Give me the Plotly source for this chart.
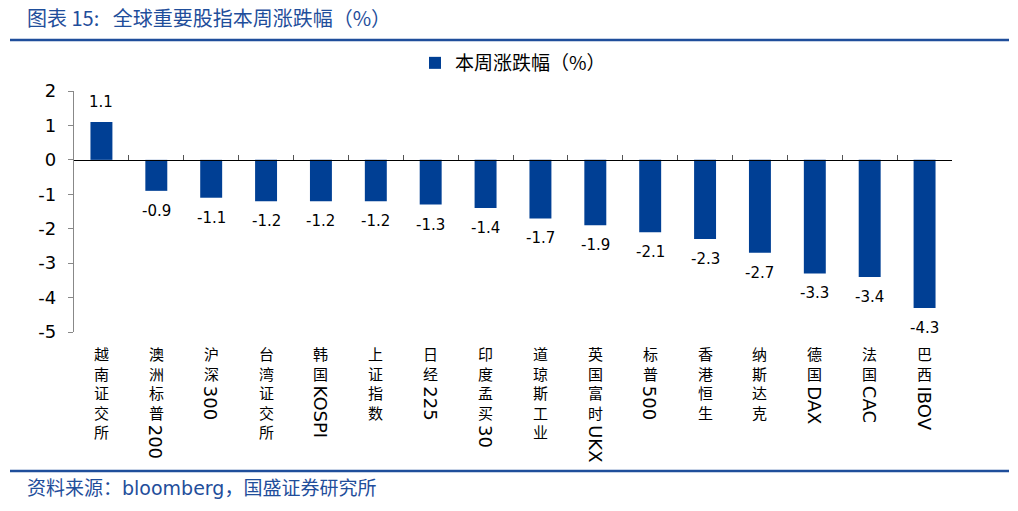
import plotly.graph_objects as go

categories = ["越南证交所", "澳洲标普200", "沪深300", "台湾证交所", "韩国KOSPI", "上证指数",
              "日经225", "印度孟买30", "道琼斯工业", "英国富时UKX", "标普500", "香港恒生",
              "纳斯达克", "德国DAX", "法国CAC", "巴西IBOV"]
values = [1.1, -0.9, -1.1, -1.2, -1.2, -1.2, -1.3, -1.4, -1.7, -1.9, -2.1, -2.3, -2.7, -3.3, -3.4, -4.3]
series_name = "本周涨跌幅（%）"
y_ticks = [2, 1, 0, -1, -2, -3, -4, -5]

BLUE = "#003F94"
TXT_BLUE = "#1F4E9B"
CJK = "Noto Sans CJK SC"
LAT = "DejaVu Sans"

W, H = 1018, 511
L, T = 74, 91
R = W - 952
B = H - 332
pw, ph = W - L - R, H - T - B

def px_x(p):
    return (p - L) / pw

def px_y(p):
    return 1 - (p - T) / ph

fig = go.Figure()
fig.add_trace(go.Bar(x=categories, y=values, name=series_name, marker_color=BLUE,
                     marker_line_width=0, showlegend=True, hoverinfo="skip"))

annotations = []
# data labels
for c, v in zip(categories, values):
    annotations.append(dict(x=c, y=v, xref="x", yref="y", text=f"{v:.1f}", showarrow=False,
                            yanchor="bottom" if v >= 0 else "top",
                            yshift=9 if v >= 0 else -9,
                            font=dict(family=LAT, size=15, color="#000000")))

# vertical category labels
CJK_SIZE = 15
step = CJK_SIZE * 1.3
for c in categories:
    cjk = [ch for ch in c if ord(ch) > 0x2E80]
    lat = "".join(ch for ch in c if ord(ch) <= 0x2E80)
    annotations.append(dict(x=c, y=-5, xref="x", yref="y", text="<br>".join(cjk), showarrow=False,
                            yanchor="top", yshift=-9,
                            font=dict(family=CJK, size=CJK_SIZE, color="#000000")))
    if lat:
        annotations.append(dict(x=c, y=-5, xref="x", yref="y", text=lat, showarrow=False,
                                textangle=90, yanchor="top",
                                yshift=-(13 + len(cjk) * step),
                                font=dict(family=LAT, size=18, color="#000000")))

# title and source
annotations.append(dict(x=px_x(25), y=px_y(18), xref="paper", yref="paper",
                        text="图表 15:   全球重要股指本周涨跌幅（%）",
                        showarrow=False, xanchor="left", yanchor="middle",
                        font=dict(family=CJK, size=20, color=TXT_BLUE)))
annotations.append(dict(x=px_x(25), y=px_y(486), xref="paper", yref="paper",
                        text="资料来源：<span style='font-family:DejaVu Sans'>bloomberg</span>，国盛证券研究所",
                        showarrow=False, xanchor="left", yanchor="middle",
                        font=dict(family=CJK, size=19, color=TXT_BLUE)))

shapes = [
    dict(type="line", xref="paper", yref="paper", x0=px_x(10), x1=px_x(1009), y0=px_y(40), y1=px_y(40),
         line=dict(color=TXT_BLUE, width=2.5)),
    dict(type="line", xref="paper", yref="paper", x0=px_x(10), x1=px_x(1009), y0=px_y(471), y1=px_y(471),
         line=dict(color=TXT_BLUE, width=2.5)),
]

fig.update_layout(
    width=W, height=H, autosize=False,
    margin=dict(l=L, r=R, t=T, b=B, autoexpand=False),
    paper_bgcolor="white", plot_bgcolor="white",
    bargap=0.6,
    annotations=annotations,
    shapes=shapes,
    hovermode=False,
    legend=dict(orientation="h", x=0.5, xanchor="center", yref="container", y=1 - 63 / H,
                yanchor="middle",
                font=dict(family=CJK, size=19, color="#000000"), itemwidth=30,
                bgcolor="rgba(0,0,0,0)"),
    xaxis=dict(anchor="free", position=5 / 7, showline=True, linecolor="#000000", linewidth=1.3,
               ticks="inside", tickson="boundaries", ticklen=5, tickcolor="#555555",
               showticklabels=False, showgrid=False, zeroline=False,
               range=[-0.5, len(categories) - 0.5], fixedrange=True),
    yaxis=dict(range=[-5, 2], tickvals=y_ticks, ticktext=[str(t) for t in y_ticks],
               showline=True, linecolor="#888888", linewidth=1.3, ticks="outside", ticklen=5,
               tickcolor="#888888", ticklabelstandoff=8, showgrid=False, zeroline=False,
               tickfont=dict(family=LAT, size=18, color="#000000"), fixedrange=True),
)

fig.write_html("out.html", config={"displayModeBar": False, "staticPlot": True},
               post_script="document.body.style.margin='0px';")
